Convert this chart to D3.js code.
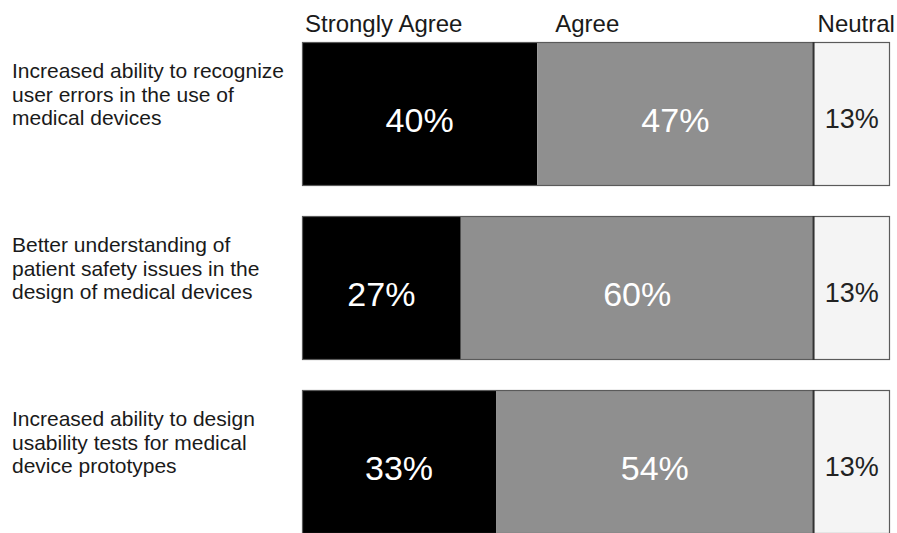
<!DOCTYPE html>
<html>
<head>
<meta charset="utf-8">
<script src="https://cdn.jsdelivr.net/npm/d3@7"></script>
<style>
  body { margin: 0; background: #fff; }
  svg { display: block; font-family: "Liberation Sans", Arial, sans-serif; }
</style>
</head>
<body>
<svg id="chart" width="897" height="533"></svg>
<script>
// survey statements (one bar each)
var statements = [
    ["Increased ability to recognize", "user errors in the use of", "medical devices"],
    ["Better understanding of", "patient safety issues in the", "design of medical devices"],
    ["Increased ability to design", "usability tests for medical", "device prototypes"]
];
var keys = ["Strongly Agree", "Agree", "Neutral"];
var stronglyAgree = [40, 27, 33];
var agree = [47, 60, 54];
var neutral = [13, 13, 13];

var svg = d3.select("#chart"),
    margin = { top: 42, right: 7, left: 302 },
    width = +svg.attr("width") - margin.left - margin.right,
    step = 174, gap = 30;

var data = statements.map(function (s, i) {
    return { id: i, "Strongly Agree": stronglyAgree[i], "Agree": agree[i], "Neutral": neutral[i] };
});

var x = d3.scaleLinear().domain([0, 100]).range([margin.left, margin.left + width]);
// step 174, bar height 144 -> range = step * (n - p)
var y = d3.scaleBand().domain(d3.range(statements.length))
    .range([margin.top, margin.top + step * statements.length - gap])
    .paddingInner(gap / step).paddingOuter(0).align(0);

var fill = d3.scaleOrdinal().domain(keys).range(["#000000", "#8f8f8f", "#f4f4f4"]);
var textFill = d3.scaleOrdinal().domain(keys).range(["#ffffff", "#ffffff", "#222222"]);
var textSize = d3.scaleOrdinal().domain(keys).range([34, 34, 27]);

var series = d3.stack().keys(keys)(data);

var layer = svg.append("g")
    .selectAll("g")
    .data(series)
    .enter().append("g")
    .attr("fill", function (d) { return fill(d.key); });

layer.selectAll("rect")
    .data(function (d) { return d; })
    .enter().append("rect")
    .attr("x", function (d) { return x(d[0]); })
    .attr("y", function (d, i) { return y(i); })
    .attr("width", function (d) { return x(d[1]) - x(d[0]); })
    .attr("height", y.bandwidth());

// outline of each bar
svg.append("g").selectAll("rect")
    .data(data)
    .enter().append("rect")
    .attr("x", x(0) + 0.5)
    .attr("y", function (d) { return y(d.id) + 0.5; })
    .attr("width", x(100) - x(0) - 1)
    .attr("height", y.bandwidth() - 1)
    .attr("fill", "none")
    .attr("stroke", "#5a5a5a")
    .attr("stroke-width", 1.2);

// dark divider between agree and neutral
svg.append("g").selectAll("line")
    .data(series[1])
    .enter().append("line")
    .attr("x1", function (d) { return x(d[1]); })
    .attr("x2", function (d) { return x(d[1]); })
    .attr("y1", function (d, i) { return y(i); })
    .attr("y2", function (d, i) { return y(i) + y.bandwidth(); })
    .attr("stroke", "#333")
    .attr("stroke-width", 2);

// value labels
layer.each(function (s) {
    d3.select(this).selectAll("text")
        .data(s)
        .enter().append("text")
        .attr("x", function (d) { return (x(d[0]) + x(d[1])) / 2; })
        .attr("y", function (d, i) { return y(i) + y.bandwidth() / 2; })
        .attr("dy", "0.52em")
        .attr("text-anchor", "middle")
        .attr("font-size", textSize(s.key))
        .attr("fill", textFill(s.key))
        .text(function (d) { return (d[1] - d[0]) + "%"; });
});

// column headers, placed over the first bar
var headerOffset = [3, 18, 4];
svg.append("g").selectAll("text")
    .data(series)
    .enter().append("text")
    .attr("x", function (d, i) { return x(d[0][0]) + headerOffset[i]; })
    .attr("y", 32)
    .attr("font-size", 24)
    .attr("fill", "#1a1a1a")
    .text(function (d) { return d.key; });

// statement labels
var labels = svg.append("g").selectAll("text")
    .data(statements)
    .enter().append("text")
    .attr("x", 12)
    .attr("y", function (d, i) { return y(i) + 36; })
    .attr("font-size", 21)
    .attr("fill", "#1a1a1a");

labels.selectAll("tspan")
    .data(function (d) { return d; })
    .enter().append("tspan")
    .attr("x", 12)
    .attr("dy", function (d, i) { return i === 0 ? 0 : 23.5; })
    .text(function (d) { return d; });
</script>
</body>
</html>
